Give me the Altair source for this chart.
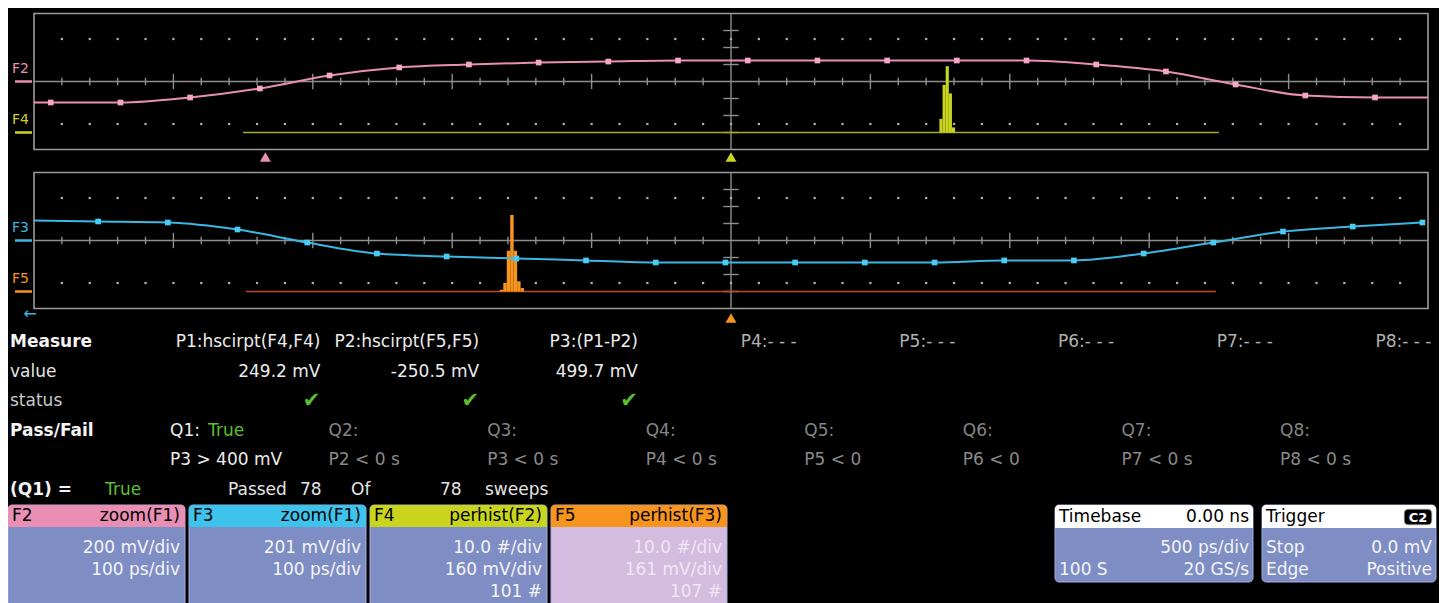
import altair as alt
import pandas as pd

# ================= values =================
# F2 = zoom(F1): 200 mV/div, 100 ps/div, one sample every 50 ps
f2_time_ps = [-488, -438, -388, -338, -288, -238, -188, -138, -88, -38,
              12, 62, 112, 162, 212, 262, 312, 362, 412, 462]
f2_mv = [-247, -247, -188, -82, 71, 165, 200, 223, 235, 247,
         247, 247, 247, 247, 247, 200, 118, -35, -165, -188]
f2_edge_time_ps = [-500, 500]
f2_edge_mv = [-247, -188]

# F3 = zoom(F1): 201 mV/div, 100 ps/div
f3_time_ps = [-454, -404, -354, -304, -254, -204, -154, -104, -54, -4,
              46, 96, 146, 196, 246, 296, 346, 396, 446, 496]
f3_mv = [225, 213, 130, -24, -154, -189, -213, -236, -260, -260,
         -260, -260, -260, -236, -236, -154, -24, 106, 165, 213]
f3_edge_time_ps = [-500]
f3_edge_mv = [236]

# F4 = perhist(F2): 10 #/div, 160 mV/div, 101 #
f4_bin_lo = [239.2, 242.8, 246.4, 250.0, 253.6]
f4_bin_hi = [242.8, 246.4, 250.0, 253.6, 257.2]
f4_count = [8, 28, 39, 23, 3]
f4_range_mv = [-560, 560]

# F5 = perhist(F3): 10 #/div, 161 mV/div, 107 #
f5_bin_lo = [-267, -263, -259, -255, -251, -247, -243]
f5_bin_hi = [-263, -259, -255, -251, -247, -243, -239]
f5_count = [1, 5, 24, 45, 24, 6, 2]
f5_range_mv = [-560, 560]

f2_cursor_ps = -334
trigger_ps = 0

# measurement / pass-fail table
row_labels = ["Measure", "value", "status", "Pass/Fail", "", "(Q1) ="]
measure_headers = ["P1:hscirpt(F4,F4)", "P2:hscirpt(F5,F5)", "P3:(P1-P2)", "P4:- - -",
                   "P5:- - -", "P6:- - -", "P7:- - -", "P8:- - -"]
measure_values = ["249.2 mV", "-250.5 mV", "499.7 mV"]
measure_ok = [True, True, True]
pf_names = ["Q1:", "Q2:", "Q3:", "Q4:", "Q5:", "Q6:", "Q7:", "Q8:"]
pf_conditions = ["P3 > 400 mV", "P2 < 0 s", "P3 < 0 s", "P4 < 0 s", "P5 < 0", "P6 < 0",
                 "P7 < 0 s", "P8 < 0 s"]
pf_result = ["True", "", "", "", "", "", "", ""]
q1_result = "True"
sweeps_passed = 78
sweeps_total = 78

# descriptor boxes
box_names = ["F2", "F3", "F4", "F5"]
box_funcs = ["zoom(F1)", "zoom(F1)", "perhist(F2)", "perhist(F3)"]
box_line1 = ["200 mV/div", "201 mV/div", "10.0 #/div", "10.0 #/div"]
box_line2 = ["100 ps/div", "100 ps/div", "160 mV/div", "161 mV/div"]
box_line3 = ["", "", "101 #", "107 #"]
timebase = ["0.00 ns", "500 ps/div", "100 S", "20 GS/s"]
trigger = ["C2", "Stop", "0.0 mV", "Edge", "Positive"]

# ================= style / layout =================
W, H = 1431, 595
PX = (26, 1420)
TOP_Y = (141.5, 5.5)
BOT_Y = (300.5, 164.5)
FONT = "DejaVu Sans"
TFS = 17
PINK, PINK_PT = "#e98fb3", "#f6a6c6"
CYAN, CYAN_PT = "#38b8e2", "#4cccf4"
YEL, YEL_BASE = "#c9d41f", "#a3ad1e"
ORG, ORG_BASE = "#f7941d", "#bc4a2a"
GREEN = "#5cbf2e"
BODY = "#7f8dc5"
BODY5 = "#d4bbe0"


def S(domain, rng):
    return alt.Scale(domain=list(domain), range=list(rng), nice=False, zero=False)


def qx(field, domain, rng=PX):
    return alt.X(f"{field}:Q", scale=S(domain, rng), axis=None)


def qy(field, domain, rng):
    return alt.Y(f"{field}:Q", scale=S(domain, rng), axis=None)


def pxx(field):
    return alt.X(f"{field}:Q", scale=None, axis=None)


def pxy(field):
    return alt.Y(f"{field}:Q", scale=None, axis=None)


def grid_layers(yr):
    gx, gy = (-5, 5), (-4, 4)
    segs = []
    segs.append((-5, 5, 0, 0))
    segs.append((0, 0, -4, 4))
    for i in range(-24, 25):
        if i == 0:
            continue
        h = 0.45 if i % 5 == 0 else 0.22
        segs.append((i / 5, i / 5, -h, h))
    for j in (-3, -2, -1, 1, 2, 3):
        segs.append((-0.055, 0.055, j, j))
    seg_df = pd.DataFrame(segs, columns=["x", "x2", "y", "y2"])
    dots = pd.DataFrame([(i / 5, yv) for i in range(-24, 25) for yv in (-2.5, 2.5)],
                        columns=["x", "y"])
    frame_df = pd.DataFrame({"x": [-5], "x2": [5], "y": [-4], "y2": [4]})
    frame = alt.Chart(frame_df).mark_rect(fillOpacity=0, stroke="#9c9c9c", strokeWidth=1.6).encode(
        x=qx("x", gx), x2="x2:Q", y=qy("y", gy, yr), y2="y2:Q")
    rules = alt.Chart(seg_df).mark_rule(color="#8e8e8e", strokeWidth=1.4).encode(
        x=qx("x", gx), x2="x2:Q", y=qy("y", gy, yr), y2="y2:Q")
    dot = alt.Chart(dots).mark_square(size=5, color="#b0b0b0", opacity=1).encode(
        x=qx("x", gx), y=qy("y", gy, yr))
    return [frame, rules, dot]


def trace_layers(t, v, et, ev, ydom, yr, line_c, pt_c):
    line_df = pd.DataFrame({"t": list(t) + list(et), "v": list(v) + list(ev)}).sort_values("t")
    pts_df = pd.DataFrame({"t": t, "v": v})
    line = alt.Chart(line_df).mark_line(color=line_c, strokeWidth=2, interpolate="monotone").encode(
        x=qx("t", (-500, 500)), y=qy("v", ydom, yr), order="t:Q")
    pts = alt.Chart(pts_df).mark_square(color=pt_c, size=32, opacity=1).encode(
        x=qx("t", (-500, 500)), y=qy("v", ydom, yr))
    return [line, pts]


def hist_layers(lo, hi, n, span, xdom, yr, bar_c, base_c):
    hdf = pd.DataFrame({"lo": lo, "hi": hi, "n": n, "z": [0] * len(n)})
    base = alt.Chart(pd.DataFrame({"a": [span[0]], "b": [span[1]], "z": [0]})).mark_rule(
        color=base_c, strokeWidth=1.6).encode(x=qx("a", xdom), x2="b:Q", y=qy("z", (-10, 70), yr))
    bars = alt.Chart(hdf).mark_rect(color=bar_c).encode(
        x=qx("lo", xdom), x2="hi:Q", y=qy("n", (-10, 70), yr), y2="z:Q")
    return [base, bars]


def chan_label(name, color, ydom, yr):
    df = pd.DataFrame({"v": [0], "name": [name]})
    mk = alt.Chart(df).mark_rule(color=color, strokeWidth=2.5).encode(
        x=alt.value(7), x2=alt.value(24), y=qy("v", ydom, yr))
    tx = alt.Chart(df).mark_text(color=color, font=FONT, fontSize=14, align="left",
                                 baseline="middle", dy=-13).encode(
        x=alt.value(4), y=qy("v", ydom, yr), text="name:N")
    return [mk, tx]


def cursor(t, ypix, color):
    return alt.Chart(pd.DataFrame({"t": [t]})).mark_point(
        shape="triangle-up", filled=True, size=120, color=color, opacity=1).encode(
        x=qx("t", (-500, 500)), y=alt.value(ypix))


layers = []
# ---- top panel (F2 + F4) ----
layers += grid_layers(TOP_Y)
layers += hist_layers(f4_bin_lo, f4_bin_hi, f4_count, f4_range_mv, (-800, 800), TOP_Y, YEL, YEL_BASE)
layers += trace_layers(f2_time_ps, f2_mv, f2_edge_time_ps, f2_edge_mv, (-800, 800), TOP_Y, PINK, PINK_PT)
layers += chan_label("F2", PINK, (-800, 800), TOP_Y)
layers += chan_label("F4", YEL, (-10, 70), TOP_Y)
layers.append(cursor(f2_cursor_ps, 149, PINK))
layers.append(cursor(trigger_ps, 149, YEL))
# ---- bottom panel (F3 + F5) ----
layers += grid_layers(BOT_Y)
layers += hist_layers(f5_bin_lo, f5_bin_hi, f5_count, f5_range_mv, (-805, 805), BOT_Y, ORG, ORG_BASE)
layers += trace_layers(f3_time_ps, f3_mv, f3_edge_time_ps, f3_edge_mv, (-804, 804), BOT_Y, CYAN, CYAN_PT)
layers += chan_label("F3", CYAN, (-804, 804), BOT_Y)
layers += chan_label("F5", ORG, (-10, 70), BOT_Y)
layers.append(cursor(trigger_ps, 310, ORG))
layers.append(alt.Chart(pd.DataFrame({"s": ["\u2190"]})).mark_text(
    color=CYAN, font=FONT, fontSize=16, align="center", baseline="middle").encode(
    x=alt.value(22), y=alt.value(306), text="s:N"))

# ---- measurement table ----
RCOL = S((0, 7), (312.5, 1423.5))
LCOL = S((0, 7), (162, 1272))
ROW = S((0, 5), (334, 482))

right_rows = []
for k, h in enumerate(measure_headers):
    right_rows.append((h, k, 0, "#ececec" if k < 3 else "#b2b2b2"))
for k, v in enumerate(measure_values):
    right_rows.append((v, k, 1, "#ececec"))
rdf = pd.DataFrame(right_rows, columns=["text", "col", "row", "c"])
layers.append(alt.Chart(rdf).mark_text(font=FONT, fontSize=TFS, align="right", baseline="middle").encode(
    x=alt.X("col:Q", scale=RCOL, axis=None), y=alt.Y("row:Q", scale=ROW, axis=None),
    text="text:N", color=alt.Color("c:N", scale=None)))

cdf = pd.DataFrame({"col": [k for k, ok in enumerate(measure_ok) if ok], "row": 2, "text": "\u2714"})
layers.append(alt.Chart(cdf).mark_text(font=FONT, fontSize=21, align="center", baseline="middle",
                                       dx=-9, color=GREEN).encode(
    x=alt.X("col:Q", scale=RCOL, axis=None), y=alt.Y("row:Q", scale=ROW, axis=None), text="text:N"))

left_rows = []
for k, q in enumerate(pf_names):
    left_rows.append((q, k, 3, "#ececec" if k == 0 else "#858585"))
for k, q in enumerate(pf_conditions):
    left_rows.append((q, k, 4, "#ececec" if k == 0 else "#8a8a8a"))
ldf = pd.DataFrame(left_rows, columns=["text", "col", "row", "c"])
layers.append(alt.Chart(ldf).mark_text(font=FONT, fontSize=TFS, align="left", baseline="middle").encode(
    x=alt.X("col:Q", scale=LCOL, axis=None), y=alt.Y("row:Q", scale=ROW, axis=None),
    text="text:N", color=alt.Color("c:N", scale=None)))
resdf = pd.DataFrame({"text": [r for r in pf_result if r], "col": [k for k, r in enumerate(pf_result) if r], "row": 3})
layers.append(alt.Chart(resdf).mark_text(font=FONT, fontSize=TFS, align="left", baseline="middle",
                                         dx=38, color=GREEN).encode(
    x=alt.X("col:Q", scale=LCOL, axis=None), y=alt.Y("row:Q", scale=ROW, axis=None), text="text:N"))

lab = pd.DataFrame({"text": row_labels, "row": range(len(row_labels)),
                    "bold": [True, False, False, True, False, True],
                    "c": ["#f4f4f4", "#e4e4e4", "#c8c8c8", "#f4f4f4", "#f4f4f4", "#f4f4f4"]})
layers.append(alt.Chart(lab[lab.bold]).mark_text(font=FONT, fontSize=TFS, fontWeight="bold", align="left",
                                                 baseline="middle").encode(
    x=alt.value(2), y=alt.Y("row:Q", scale=ROW, axis=None), text="text:N", color=alt.Color("c:N", scale=None)))
layers.append(alt.Chart(lab[~lab.bold]).mark_text(font=FONT, fontSize=TFS, align="left",
                                                  baseline="middle").encode(
    x=alt.value(2), y=alt.Y("row:Q", scale=ROW, axis=None), text="text:N", color=alt.Color("c:N", scale=None)))

summary = pd.DataFrame({
    "text": [q1_result, "Passed", str(sweeps_passed), "Of", str(sweeps_total), "sweeps"],
    "x": [97, 220, 292, 343, 432, 477],
    "row": 5,
    "c": [GREEN, "#e4e4e4", "#e4e4e4", "#e4e4e4", "#e4e4e4", "#e4e4e4"]})
layers.append(alt.Chart(summary).mark_text(font=FONT, fontSize=TFS, align="left", baseline="middle").encode(
    x=pxx("x"), y=alt.Y("row:Q", scale=ROW, axis=None), text="text:N", color=alt.Color("c:N", scale=None)))

# ---- descriptor boxes ----
HEAD_C = [PINK, "#3ec4ec", YEL, ORG]
boxes = pd.DataFrame({
    "name": box_names, "func": box_funcs, "l1": box_line1, "l2": box_line2, "l3": box_line3,
    "x0": [0, 181, 362, 543], "x1": [177, 358, 539, 719],
    "y0": 497, "yh": 519, "y1": 602,
    "head": HEAD_C, "body": [BODY, BODY, BODY, BODY5],
    "tc": ["#f4f4f4", "#f4f4f4", "#f4f4f4", "#efe6f6"]})
boxes["xr"] = boxes["x1"] - 5
boxes["xl"] = boxes["x0"] + 4
boxes["yt"] = 508
boxes["r1"], boxes["r2"], boxes["r3"] = 540, 562, 584

tb = pd.DataFrame({"x0": [1047, 1254], "x1": [1245, 1428], "y0": 497, "yh": 520, "y1": 574})
layers.append(alt.Chart(tb).mark_rect(color=BODY, cornerRadius=4, stroke="#a4aee0", strokeWidth=1).encode(
    x=pxx("x0"), x2="x1:Q", y=pxy("y0"), y2="y1:Q"))
layers.append(alt.Chart(tb).mark_rect(color="#ffffff", cornerRadiusTopLeft=4, cornerRadiusTopRight=4).encode(
    x=pxx("x0"), x2="x1:Q", y=pxy("y0"), y2="yh:Q"))

layers.append(alt.Chart(boxes).mark_rect(cornerRadius=4, stroke="#a4aee0", strokeWidth=1).encode(
    x=pxx("x0"), x2="x1:Q", y=pxy("y0"), y2="y1:Q", fill=alt.Fill("body:N", scale=None)))
layers.append(alt.Chart(boxes).mark_rect(cornerRadiusTopLeft=4, cornerRadiusTopRight=4).encode(
    x=pxx("x0"), x2="x1:Q", y=pxy("y0"), y2="yh:Q", fill=alt.Fill("head:N", scale=None)))
layers.append(alt.Chart(boxes).mark_text(font=FONT, fontSize=17, align="left", baseline="middle",
                                         color="#000000").encode(x=pxx("xl"), y=pxy("yt"), text="name:N"))
layers.append(alt.Chart(boxes).mark_text(font=FONT, fontSize=17, align="right", baseline="middle",
                                         color="#000000").encode(x=pxx("xr"), y=pxy("yt"), text="func:N"))
for col, rcol in (("l1", "r1"), ("l2", "r2"), ("l3", "r3")):
    layers.append(alt.Chart(boxes).mark_text(font=FONT, fontSize=17, align="right", baseline="middle").encode(
        x=pxx("xr"), y=pxy(rcol), text=f"{col}:N", color=alt.Color("tc:N", scale=None)))

tb_text = pd.DataFrame({
    "text": ["Timebase", timebase[0], timebase[1], timebase[2], timebase[3],
             "Trigger", trigger[1], trigger[2], trigger[3], trigger[4]],
    "x": [1051, 1241, 1241, 1051, 1241, 1258, 1258, 1424, 1258, 1424],
    "y": [509, 509, 540, 562, 562, 509, 540, 540, 562, 562],
    "a": ["l", "r", "r", "l", "r", "l", "l", "r", "l", "r"],
    "c": ["#000000", "#000000", "#f4f4f4", "#f4f4f4", "#f4f4f4",
          "#000000", "#f4f4f4", "#f4f4f4", "#f4f4f4", "#f4f4f4"]})
layers.append(alt.Chart(tb_text[tb_text.a == "l"]).mark_text(font=FONT, fontSize=17, align="left",
                                                             baseline="middle").encode(
    x=pxx("x"), y=pxy("y"), text="text:N", color=alt.Color("c:N", scale=None)))
layers.append(alt.Chart(tb_text[tb_text.a == "r"]).mark_text(font=FONT, fontSize=17, align="right",
                                                             baseline="middle").encode(
    x=pxx("x"), y=pxy("y"), text="text:N", color=alt.Color("c:N", scale=None)))
badge = pd.DataFrame({"x0": [1396], "x1": [1424], "y0": [501], "y1": [517], "xt": [1410], "yt": [509.5],
                      "t": [trigger[0]]})
layers.append(alt.Chart(badge).mark_rect(color="#000000", cornerRadius=4, stroke="#dddddd", strokeWidth=1).encode(
    x=pxx("x0"), x2="x1:Q", y=pxy("y0"), y2="y1:Q"))
layers.append(alt.Chart(badge).mark_text(font=FONT, fontSize=13, fontWeight="bold", color="#ffffff",
                                         align="center", baseline="middle").encode(
    x=pxx("xt"), y=pxy("yt"), text="t:N"))

chart = alt.layer(*layers).resolve_scale(x="independent", y="independent").properties(
    width=W, height=H, background="#000000", padding=0,
    autosize=alt.AutoSizeParams(type="none")).configure_view(strokeWidth=0)

chart.save("out.html", embed_options={"renderer": "svg", "actions": False})
